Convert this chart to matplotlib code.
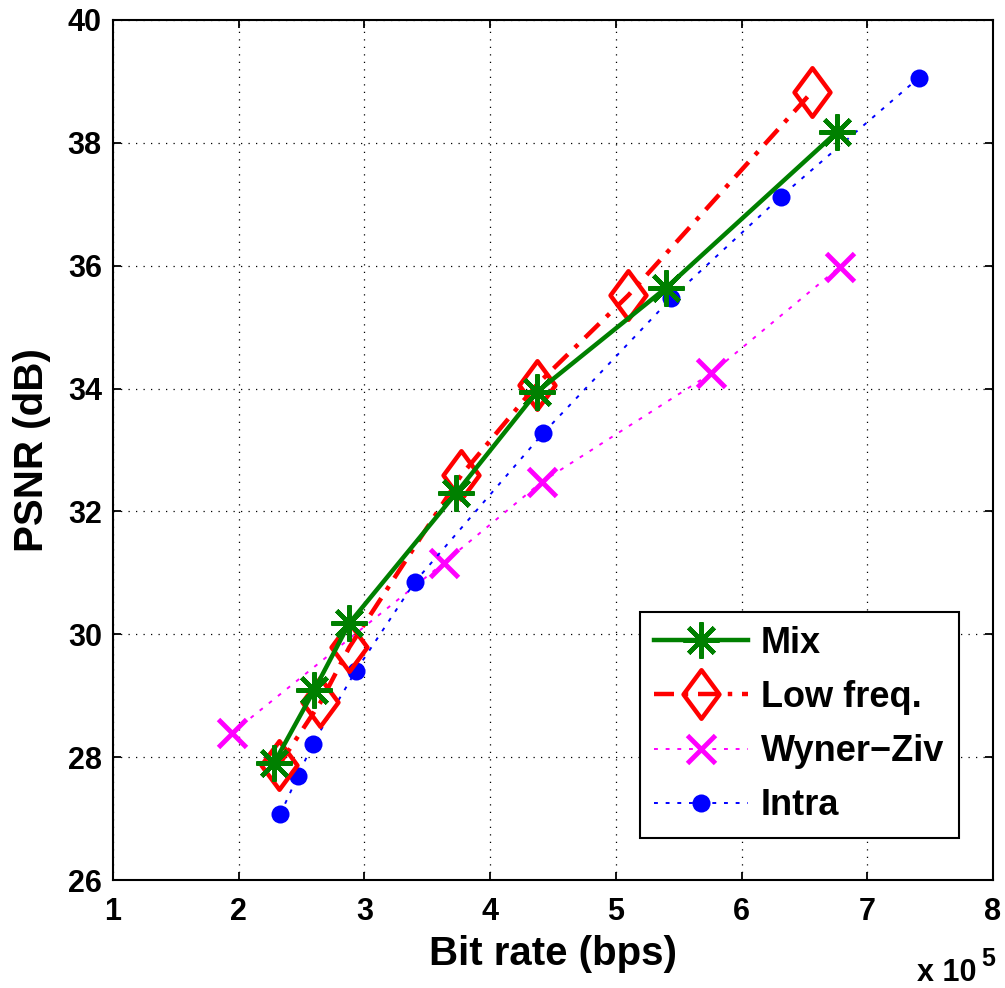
import matplotlib
matplotlib.use("Agg")
import matplotlib.pyplot as plt
from matplotlib.path import Path

plt.rcParams['font.family'] = ['Liberation Sans', 'DejaVu Sans']
plt.rcParams['font.weight'] = 'bold'

# Data (bit rate in units of 1e5 bps, PSNR in dB)
mix_x = [2.28, 2.60, 2.88, 3.73, 4.37, 5.40, 6.76]
mix_y = [27.90, 29.09, 30.18, 32.30, 33.94, 35.64, 38.18]

low_x = [2.32, 2.65, 2.88, 3.77, 4.37, 5.10, 6.56]
low_y = [27.87, 28.89, 29.79, 32.59, 34.06, 35.52, 38.83]

wz_x = [1.95, 3.63, 4.41, 5.76, 6.78]
wz_y = [28.40, 31.16, 32.48, 34.25, 35.98]

intra_x = [2.33, 2.47, 2.59, 2.93, 3.40, 4.42, 5.44, 6.31, 7.41]
intra_y = [27.07, 27.69, 28.22, 29.40, 30.85, 33.27, 35.47, 37.12, 39.06]

labels = ['Mix', 'Low freq.', 'Wyner\u2212Ziv', 'Intra']
xticks = [1, 2, 3, 4, 5, 6, 7, 8]
yticks = [26, 28, 30, 32, 34, 36, 38, 40]

fig = plt.figure(figsize=(10.05, 9.88), dpi=100)
ax = fig.add_axes([113/1005, 1-880/988, 880/1005, 860/988])

diamond = Path([(0, 1), (0.74, 0), (0, -1), (-0.74, 0), (0, 1)],
               [Path.MOVETO, Path.LINETO, Path.LINETO, Path.LINETO, Path.CLOSEPOLY])

ax.plot(mix_x, mix_y, color='#008000', lw=3.2, ls='-', marker=(8, 2, 0),
        markersize=26, markeredgewidth=3.2, label=labels[0], zorder=4)
ax.plot(low_x, low_y, color='#ff0000', lw=3.2, dashes=(4.5, 2.2, 1, 2.2),
        marker=diamond, markersize=35, markerfacecolor='none',
        markeredgewidth=3.2, label=labels[1], zorder=3)
ax.plot(wz_x, wz_y, color='#ff00ff', lw=1.4, dashes=(2, 4),
        marker='x', markersize=20, markeredgewidth=3.5, label=labels[2], zorder=2)
ax.plot(intra_x, intra_y, color='#0000ff', lw=1.4, dashes=(2, 4),
        marker='o', markersize=13, markeredgewidth=0, label=labels[3], zorder=2)

ax.set_xlim(1, 8)
ax.set_ylim(26, 40)
ax.set_xticks(xticks)
ax.set_yticks(yticks)
ax.set_xticklabels([str(v) for v in xticks])
ax.set_yticklabels([str(v) for v in yticks])
ax.tick_params(direction='in', top=True, right=True, length=6, width=1.3,
               labelsize=22, color='black')
ax.tick_params(axis='x', pad=12)
ax.tick_params(axis='y', pad=8)
for s in ax.spines.values():
    s.set_linewidth(1.5)
ax.grid(True, color='black', ls=(0, (1, 5)), lw=0.9)
ax.set_axisbelow(True)

ax.set_xlabel('Bit rate (bps)', fontsize=29, fontweight='bold', labelpad=6)
ax.set_ylabel('PSNR (dB)', fontsize=29, fontweight='bold', labelpad=12)

leg = ax.legend(loc='lower right', bbox_to_anchor=(0.961, 0.049), fontsize=26,
                frameon=True, fancybox=False, edgecolor='black',
                handlelength=2.6, handletextpad=0.35, labelspacing=0.53,
                borderpad=0.4, borderaxespad=0.0, markerscale=1.0)
leg.get_frame().set_linewidth(1.5)
leg.get_frame().set_alpha(1)

fig.text(917/1005, 1-981/988, 'x 10', fontsize=22, fontweight='bold', va='baseline', ha='left')
fig.text(981/1005, 1-966/988, '5', fontsize=18, fontweight='bold', va='baseline', ha='left')

fig.savefig('out.png', dpi=100)
